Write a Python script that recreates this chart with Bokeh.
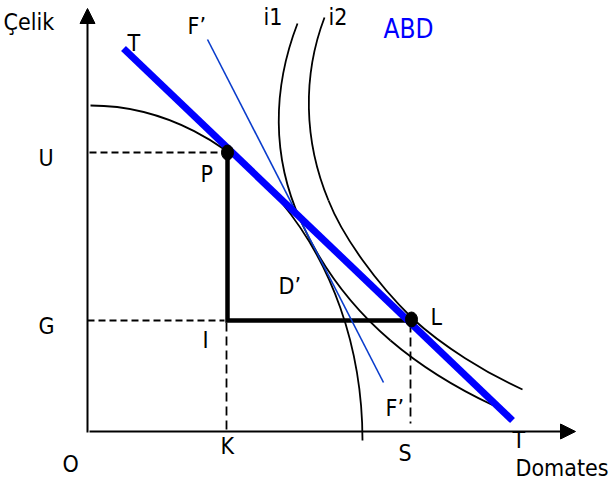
from bokeh.plotting import figure
from bokeh.models import Range1d, Arrow, NormalHead, ColumnDataSource
from bokeh.core.properties import value
from bokeh.embed import file_html
from bokeh.resources import INLINE

# ---- diagram values (origin O at the axes corner, y upward) ----
# reference levels
K_level = 140   # Domates produced at P
S_level = 324   # Domates consumed at L
U_level = 279   # Çelik produced at P
G_level = 111   # Çelik consumed at L

# axis tips
x_axis_end = 488
y_axis_end = 423

# production possibility frontier (cubic bezier: start, ctrl0, ctrl1, end)
ppf_x0 = [3];   ppf_y0 = [326]
ppf_cx0 = [148]; ppf_cy0 = [326]
ppf_cx1 = [275]; ppf_cy1 = [181]
ppf_x1 = [275]; ppf_y1 = [-9]

# indifference curve i1 (three bezier pieces)
i1_x0 = [210, 213, 303];   i1_y0 = [408, 211, 91]
i1_cx0 = [185, 233.5, 333.4]; i1_cy0 = [343, 165.5, 65]
i1_cx1 = [184, 265, 369.8];   i1_cy1 = [275, 123.5, 43]
i1_x1 = [213, 303, 406];   i1_y1 = [211, 91, 26]

# indifference curve i2 (three bezier pieces)
i2_x0 = [237, 241, 325];   i2_y0 = [414, 231, 113]
i2_cx0 = [215, 255.7, 355];   i2_cy0 = [356, 193.8, 85.4]
i2_cx1 = [216, 289.8, 398.6]; i2_cy1 = [291, 147.5, 58.4]
i2_x1 = [241, 325, 435];   i2_y1 = [231, 113, 42]

# terms-of-trade line T and autarky price line F'
t_line_x = [36, 425];  t_line_y = [383, 11]
f_line_x = [120, 296]; f_line_y = [392, 49]

# points P and L
point_x = [K_level, S_level]
point_y = [U_level, G_level + 1]

# labels
label_text = ["Çelik", "T", "F’", "i1", "i2", "U", "P", "D’", "G", "I", "L",
              "F’", "K", "S", "O", "T", "Domates"]
label_x = [-84, 40, 100, 176, 241, -49, 113, 191, -49, 115, 343,
           298, 133, 311, -25, 425, 428]
label_y = [409.5, 389, 405.5, 415, 415, 273.5, 258, 146, 106, 92, 115,
           24, -14, -21, -32, -8, -36]
title_text = ["ABD"]
title_x = [296]
title_y = [403]

FONT = "DejaVu Sans Condensed"

p = figure(width=609, height=482, output_backend="svg", toolbar_location=None,
           x_axis_location=None, y_axis_location=None, min_border=0,
           x_range=Range1d(-87, 522), y_range=Range1d(-51, 431))
p.grid.visible = False
p.outline_line_color = None
p.background_fill_color = "white"
p.border_fill_color = "white"

# axes with arrow heads
p.add_layout(Arrow(end=NormalHead(size=15, fill_color="black", line_color="black"),
                   x_start=0, y_start=-1, x_end=0, y_end=y_axis_end,
                   line_width=2, line_color="black"))
p.add_layout(Arrow(end=NormalHead(size=15, fill_color="black", line_color="black"),
                   x_start=2, y_start=0, x_end=x_axis_end, y_end=0,
                   line_width=2, line_color="black"))

# curves
def bez(x0, y0, cx0, cy0, cx1, cy1, x1, y1):
    src = ColumnDataSource(dict(x0=x0, y0=y0, cx0=cx0, cy0=cy0,
                                cx1=cx1, cy1=cy1, x1=x1, y1=y1))
    p.bezier(x0="x0", y0="y0", x1="x1", y1="y1", cx0="cx0", cy0="cy0",
             cx1="cx1", cy1="cy1", source=src, line_color="black", line_width=1.8)

bez(ppf_x0, ppf_y0, ppf_cx0, ppf_cy0, ppf_cx1, ppf_cy1, ppf_x1, ppf_y1)
bez(i1_x0, i1_y0, i1_cx0, i1_cy0, i1_cx1, i1_cy1, i1_x1, i1_y1)
bez(i2_x0, i2_y0, i2_cx0, i2_cy0, i2_cx1, i2_cy1, i2_x1, i2_y1)

# dashed guides
p.line([2, K_level - 3], [U_level, U_level], line_color="black", line_width=1.8, line_dash="7 4")
p.line([0, K_level - 3], [G_level, G_level], line_color="black", line_width=1.8, line_dash="7 4")
p.line([K_level - 1, K_level - 1], [G_level - 2, 1], line_color="black", line_width=1.8, line_dash="9 5")
p.line([S_level - 1, S_level - 1], [G_level - 3, 8], line_color="black", line_width=1.8, line_dash="9 5")

# trade triangle
p.line([K_level, K_level, S_level + 1], [U_level, G_level, G_level],
       line_color="black", line_width=4.5, line_join="miter")

# price lines
p.line(f_line_x, f_line_y, line_color="#0a3ccc", line_width=1.6)
p.line(t_line_x, t_line_y, line_color="#0000ff", line_width=7)

# points
p.ellipse(x=point_x, y=point_y, width=12, height=15, fill_color="black", line_color="black")

# labels
p.text(x=label_x, y=label_y, text=label_text, text_font=value(FONT),
       text_font_size="23px", text_color="black", text_baseline="alphabetic",
       text_align="left")
p.text(x=title_x, y=title_y, text=title_text, text_font=value(FONT),
       text_font_size="26px", text_color="#0000ff", text_baseline="alphabetic",
       text_align="left")

open("out.html", "w").write(file_html(p, INLINE))
